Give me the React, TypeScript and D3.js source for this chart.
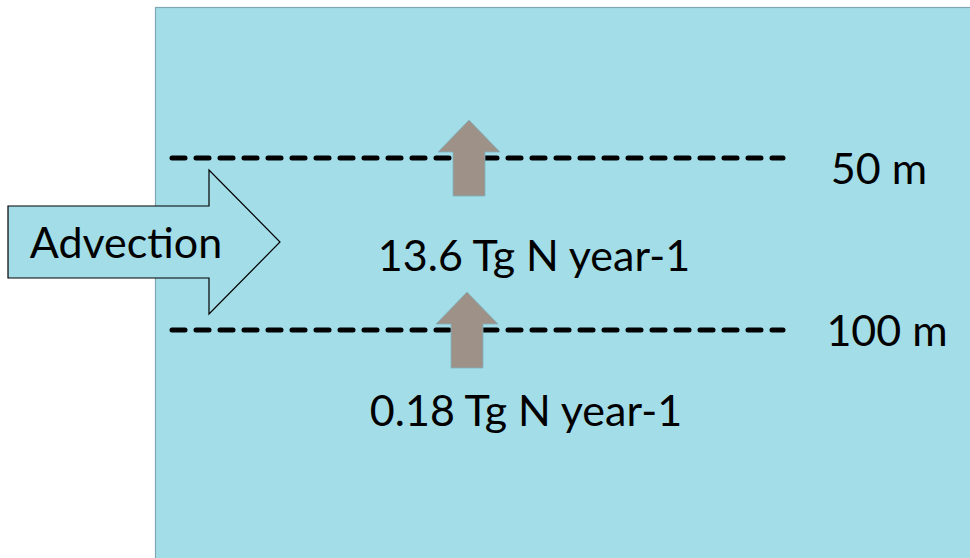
import * as d3 from 'd3';

// depth horizons (m) and the flux across each, top to bottom
const depths = [50, 100];
const depthLabels = ['50 m', '100 m'];
const fluxLabels = ['13.6 Tg N year-1', '0.18 Tg N year-1'];
const advectionLabel = 'Advection';

const W = 970;
const H = 558;
const FONT = 'Lato, "Open Sans", sans-serif';

export default function App() {
  const y = d3.scaleLinear().domain([50, 100]).range([158, 330]);

  // up arrow straddling the horizon
  const upArrow = (cx: number, yLine: number) => {
    const tip = yLine - 38;
    const headBase = yLine - 6;
    const bottom = yLine + 38;
    const p = d3.path();
    p.moveTo(cx, tip);
    p.lineTo(cx + 31, headBase);
    p.lineTo(cx + 16, headBase);
    p.lineTo(cx + 16, bottom);
    p.lineTo(cx - 16, bottom);
    p.lineTo(cx - 16, headBase);
    p.lineTo(cx - 31, headBase);
    p.closePath();
    return p.toString();
  };

  const adv = d3.path();
  adv.moveTo(8, 206);
  adv.lineTo(209, 206);
  adv.lineTo(209, 170);
  adv.lineTo(280, 242);
  adv.lineTo(209, 314);
  adv.lineTo(209, 278);
  adv.lineTo(8, 278);
  adv.closePath();

  return (
    <div style={{ position: 'fixed', left: 0, top: 0, width: W, height: H, background: '#fff' }}>
      <svg width={W} height={H} style={{ display: 'block' }} fontFamily={FONT}>
        <rect x={155.5} y={7.5} width={W} height={H} fill="#a2dde8" stroke="#7ea9b3" strokeWidth={1.2} />

        {depths.map((d, i) => (
          <g key={d}>
            <line
              x1={172}
              x2={783}
              y1={y(d)}
              y2={y(d)}
              stroke="#000"
              strokeWidth={5}
              strokeDasharray="13 11"
              strokeLinecap="round"
            />
            <path d={upArrow(i === 0 ? 469 : 467, y(d))} fill="#9e9187" stroke="#7fb4c2" strokeWidth={0.8} />
            <text x={i === 0 ? 879 : 887} y={y(d) + (i === 0 ? 26 : 16)} fontSize={43} textAnchor="middle" fill="#000">
              {depthLabels[i]}
            </text>
            <text x={i === 0 ? 534 : 526} y={y(d) + (i === 0 ? 113 : 96)} fontSize={43} textAnchor="middle" fill="#000">
              {fluxLabels[i]}
            </text>
          </g>
        ))}

        <path d={adv.toString()} fill="#a2dde8" stroke="#000" strokeWidth={1.2} />
        <text x={126} y={258} fontSize={43} textAnchor="middle" fill="#000">
          {advectionLabel}
        </text>
      </svg>
    </div>
  );
}
